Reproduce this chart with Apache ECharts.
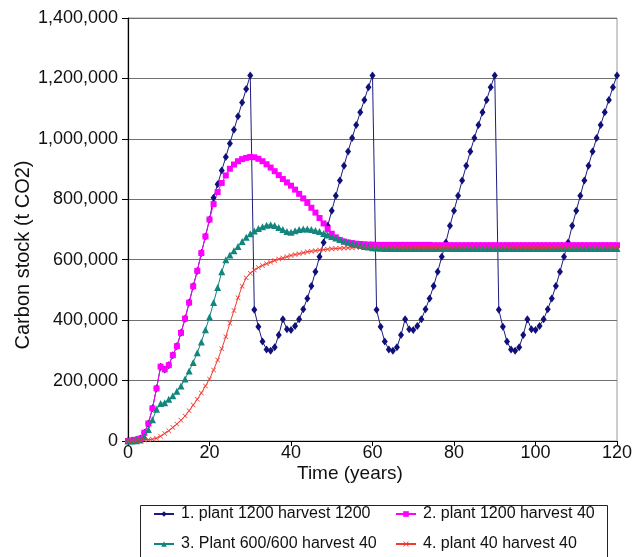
<!DOCTYPE html>
<html>
<head>
<meta charset="utf-8">
<script src="https://cdn.jsdelivr.net/npm/echarts@6/dist/echarts.min.js"></script>
<style>
html,body{margin:0;padding:0;background:#fff;}
#chart{width:643px;height:557px;}
</style>
</head>
<body>
<div id="chart"></div>
<script>
var years = [];
for (var i = 0; i <= 120; i++) years.push(i);

var seriesNames = ['1. plant 1200 harvest 1200', '2. plant 1200 harvest 40', '3. Plant 600/600 harvest 40', '4. plant 40 harvest 40'];

var plant1200harvest1200 = [
  0, 2000, 4000, 8000, 27000, 58000, 108000, 174000, 246000, 237000,
  251000, 284000, 314000, 358000, 405000, 458000, 512000, 563000, 622000, 677000,
  733000, 805000, 850000, 895000, 940000, 985000, 1030000, 1075000, 1120000, 1165000,
  1210000, 434000, 378000, 329000, 303000, 299000, 310000, 351000, 403000, 370000,
  367000, 381000, 403000, 436000, 472000, 513000, 560000, 610000, 657000, 712000,
  762000, 812000, 862000, 911000, 958000, 1003000, 1046000, 1088000, 1129000, 1171000,
  1210000, 434000, 378000, 329000, 303000, 299000, 310000, 351000, 403000, 370000,
  367000, 381000, 403000, 436000, 472000, 513000, 560000, 610000, 657000, 712000,
  762000, 812000, 862000, 911000, 958000, 1003000, 1046000, 1088000, 1129000, 1171000,
  1210000, 434000, 378000, 329000, 303000, 299000, 310000, 351000, 403000, 370000,
  367000, 381000, 403000, 436000, 472000, 513000, 560000, 610000, 657000, 712000,
  762000, 812000, 862000, 911000, 958000, 1003000, 1046000, 1088000, 1129000, 1171000,
  1210000
];

var plant1200harvest40 = [
  0, 2000, 4000, 8000, 27000, 58000, 108000, 174000, 246000, 237000,
  251000, 284000, 314000, 358000, 405000, 458000, 512000, 563000, 622000, 677000,
  733000, 784000, 824000, 854000, 879000, 901000, 915000, 926000, 933000, 937000,
  940000, 939000, 934000, 926000, 916000, 905000, 893000, 880000, 867000, 856000,
  845000, 832000, 818000, 803000, 788000, 772000, 756000, 738000, 720000, 702000,
  686000, 674000, 665000, 660000, 657000, 655000, 653000, 652000, 651000, 650000,
  650000, 649000, 649000, 649000, 649000, 649000, 649000, 649000, 649000, 649000,
  649000, 649000, 649000, 649000, 649000, 648000, 648000, 648000, 648000, 648000,
  648000, 648000, 648000, 648000, 648000, 648000, 648000, 648000, 648000, 648000,
  648000, 648000, 648000, 648000, 648000, 648000, 648000, 648000, 648000, 648000,
  648000, 648000, 648000, 648000, 648000, 648000, 648000, 648000, 648000, 648000,
  648000, 648000, 648000, 648000, 648000, 648000, 648000, 648000, 648000, 648000,
  648000
];

var plant600harvest40 = [
  0, 0, 1000, 3000, 15000, 38000, 70000, 105000, 124000, 127000,
  138000, 150000, 165000, 182000, 205000, 232000, 260000, 292000, 328000, 368000,
  410000, 458000, 508000, 560000, 600000, 616000, 630000, 644000, 660000, 674000,
  686000, 695000, 703000, 709000, 714000, 716000, 713000, 707000, 700000, 693000,
  691000, 696000, 700000, 702000, 702000, 700000, 697000, 693000, 687000, 682000,
  677000, 672000, 667000, 662000, 658000, 654000, 650000, 647000, 644000, 642000,
  640000, 639000, 638000, 637000, 637000, 637000, 637000, 637000, 637000, 637000,
  637000, 637000, 637000, 637000, 637000, 637000, 637000, 637000, 637000, 637000,
  637000, 637000, 637000, 637000, 637000, 637000, 637000, 637000, 637000, 637000,
  637000, 637000, 637000, 637000, 637000, 637000, 637000, 637000, 637000, 637000,
  637000, 637000, 637000, 637000, 637000, 637000, 637000, 637000, 637000, 637000,
  637000, 637000, 637000, 637000, 637000, 637000, 637000, 637000, 637000, 637000,
  637000
];

var plant40harvest40 = [
  0, 500, 1000, 2000, 3000, 4500, 6000, 9000, 16000, 25000,
  34000, 45000, 56000, 69000, 83000, 100000, 119000, 138000, 159000, 182000,
  205000, 235000, 268000, 305000, 345000, 390000, 432000, 474000, 512000, 540000,
  555000, 566000, 574000, 581000, 587000, 592000, 597000, 602000, 606000, 610000,
  614000, 617000, 620000, 623000, 626000, 628000, 630000, 632000, 633000, 635000,
  636000, 637000, 638000, 639000, 639000, 640000, 641000, 641000, 641000, 641000,
  641000, 641000, 641000, 641000, 641000, 641000, 641000, 641000, 641000, 641000,
  641000, 641000, 641000, 641000, 641000, 641000, 641000, 641000, 641000, 641000,
  641000, 641000, 641000, 641000, 641000, 641000, 641000, 641000, 641000, 641000,
  641000, 641000, 641000, 641000, 641000, 641000, 641000, 641000, 641000, 641000,
  641000, 641000, 641000, 641000, 641000, 641000, 641000, 641000, 641000, 641000,
  641000, 641000, 641000, 641000, 641000, 641000, 641000, 641000, 641000, 641000,
  641000
];

var xTicks = [0, 20, 40, 60, 80, 100, 120];
var yTicks = [0, 200000, 400000, 600000, 800000, 1000000, 1200000, 1400000];

function pairs(vals) {
  return years.map(function (y, i) { return [y, vals[i]]; });
}
function commas(v) {
  return String(v).replace(/\B(?=(\d{3})+(?!\d))/g, ',');
}

var FONT = '"Liberation Sans", Arial, sans-serif';
var crossPath = 'path://M0,1L1,0L5,4L9,0L10,1L6,5L10,9L9,10L5,6L1,10L0,9L4,5Z';

var chart = echarts.init(document.getElementById('chart'), null, {renderer: 'canvas'});

function legendAt(name, left, top) {
  return {
    data: [name], left: left, top: top, padding: 0,
    itemWidth: 20, itemHeight: 7, itemGap: 0,
    textStyle: {fontFamily: FONT, fontSize: 16, color: '#111', padding: [0, 0, 0, 2]},
    selectedMode: false
  };
}

var option = {
  animation: false,
  backgroundColor: '#fff',
  grid: {left: 128, top: 18, width: 489, height: 423, show: true, borderColor: '#9a9a9a', borderWidth: 1},
  xAxis: {
    type: 'value', min: xTicks[0], max: xTicks[xTicks.length - 1], interval: 20,
    axisLine: {show: true, onZero: false, lineStyle: {color: '#000', width: 1.2}},
    axisTick: {show: true, inside: false, length: 5, lineStyle: {color: '#000'}},
    axisLabel: {fontFamily: FONT, fontSize: 18, color: '#111', margin: 3},
    splitLine: {show: false}
  },
  yAxis: {
    type: 'value', min: yTicks[0], max: yTicks[yTicks.length - 1], interval: 200000,
    axisLine: {show: true, lineStyle: {color: '#000', width: 1.2}},
    axisTick: {show: true, inside: false, length: 6, lineStyle: {color: '#000'}},
    axisLabel: {fontFamily: FONT, fontSize: 18, color: '#111', margin: 10, formatter: function (v) { return commas(v); }},
    splitLine: {show: true, lineStyle: {color: '#707070', width: 1}}
  },
  legend: [
    legendAt(seriesNames[0], 153, 506),
    legendAt(seriesNames[1], 395, 506),
    legendAt(seriesNames[2], 153, 536),
    legendAt(seriesNames[3], 395, 536)
  ],
  graphic: [
    {type: 'rect', shape: {x: 140.5, y: 505.5, width: 467, height: 70}, style: {fill: 'none', stroke: '#222', lineWidth: 1}, z: -1},
    {type: 'text', left: 297, top: 464, style: {text: 'Time (years)', font: '19px ' + FONT, fill: '#111'}},
    {type: 'text', x: 23, y: 255, rotation: Math.PI / 2, style: {text: 'Carbon stock (t CO2)', font: '20px ' + FONT, fill: '#111', textAlign: 'center', textVerticalAlign: 'middle'}}
  ],
  series: [
    {name: seriesNames[0], type: 'line', data: pairs(plant1200harvest1200), symbol: 'diamond', symbolSize: [6, 8], showAllSymbol: true,
      lineStyle: {color: '#1c1c80', width: 1}, itemStyle: {color: '#10107a'}},
    {name: seriesNames[1], type: 'line', data: pairs(plant1200harvest40), symbol: 'rect', symbolSize: 6, showAllSymbol: true,
      lineStyle: {color: '#ff00ff', width: 1}, itemStyle: {color: '#ff00ff'}},
    {name: seriesNames[2], type: 'line', data: pairs(plant600harvest40), symbol: 'triangle', symbolSize: 7, showAllSymbol: true,
      lineStyle: {color: '#12857d', width: 1}, itemStyle: {color: '#12857d'}},
    {name: seriesNames[3], type: 'line', data: pairs(plant40harvest40), symbol: crossPath, symbolSize: 5, showAllSymbol: true,
      lineStyle: {color: '#f03a30', width: 1}, itemStyle: {color: '#f03a30'}}
  ]
};
chart.setOption(option);
</script>
</body>
</html>
